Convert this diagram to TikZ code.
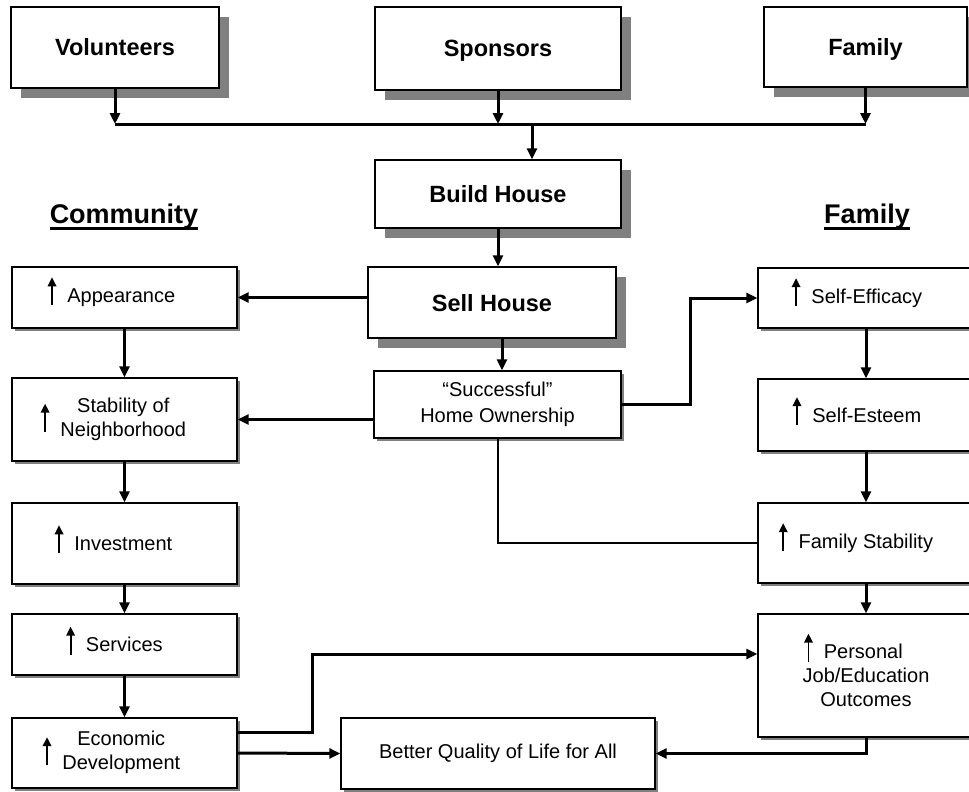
\documentclass[tikz,border=0pt]{standalone}
\usepackage{fontspec}
\setmainfont{Liberation Sans}
\usetikzlibrary{arrows.meta,shadows,calc}
\newcommand{\bigfont}{\fontsize{23.5}{28}\selectfont\bfseries}
\newcommand{\normfont}{\fontsize{20}{24}\selectfont}
\newcommand{\headfont}{\fontsize{27}{32}\selectfont\bfseries}
\newcommand{\upa}{\smash{\tikz[baseline=0pt]\draw[line width=1.9pt,-{Triangle[length=9pt,width=8.5pt]}] (0pt,-3pt) -- (0pt,25pt);}}
\newcommand{\rpad}[1]{\makebox[#1]{}}
\newcommand{\ulh}[1]{\setbox0\hbox{#1}\rlap{\rule[-6.5pt]{\wd0}{2.5pt}}\box0}
\begin{document}
\begin{tikzpicture}[x=1pt,y=-1pt,
  bigbox/.style={draw, line width=1.4pt, fill=white, font=\bigfont, inner sep=0pt,
    text height=17pt, text depth=0pt,
    drop shadow={shadow xshift=10pt, shadow yshift=-10pt, fill=black!50, opacity=1}},
  smallbox/.style={draw, line width=1.4pt, fill=white, font=\normfont, align=center, inner sep=0pt,
    drop shadow={shadow xshift=3pt, shadow yshift=-3pt, fill=black!50, opacity=1}},
  heading/.style={font=\headfont, inner sep=0pt, anchor=base},
  arr/.style={line width=3pt, -{Triangle[length=11pt,width=10pt]}},
  busline/.style={line width=3pt},
  thinline/.style={line width=2pt}
]
\useasboundingbox (0,0) rectangle (969,792);
\clip (0,0) rectangle (969,792);
\fill[white] (0,0) rectangle (969,792);

% top row
\node[bigbox, minimum width=208pt, minimum height=81pt] (vol) at (115,47.5) {Volunteers};
\node[bigbox, minimum width=246pt, minimum height=83pt] (spon) at (498,48.5) {Sponsors};
\node[bigbox, minimum width=203pt, minimum height=80pt] (famtop) at (865.5,47) {Family};
\node[bigbox, minimum width=246pt, minimum height=68pt] (build) at (498,194) {Build House};
\node[bigbox, minimum width=248pt, minimum height=71pt] (sell) at (492,302.5) {Sell House};

% headings
\node[heading] (hcom) at (124,223) {\ulh{Community}};
\node[heading] (hfam) at (867,223) {\ulh{Family}};

% centre
\node[smallbox, minimum width=247pt, minimum height=67pt, font=\fontsize{20}{26}\selectfont] (home) at (497.5,404.5) {“Successful”\\Home Ownership};
\node[smallbox, minimum width=314pt, minimum height=71pt] (better) at (498,753.5) {Better Quality of Life for All};

% community column
\node[smallbox, minimum width=225pt, minimum height=61pt] (app) at (124.5,297.5) {\upa\ \ Appearance\rpad{26pt}};
\node[smallbox, minimum width=225pt, minimum height=83pt] (stab) at (124.5,419.5) {\raisebox{-4pt}{\upa}\ \ \begin{tabular}{@{}c@{}}Stability of\\Neighborhood\end{tabular}\rpad{22pt}};
\node[smallbox, minimum width=225pt, minimum height=81pt] (inv) at (124.5,543.5) {\upa\ \ Investment\rpad{22pt}};
\node[smallbox, minimum width=225pt, minimum height=61pt] (serv) at (124.5,644.5) {\upa\ \ Services\rpad{20pt}};
\node[smallbox, minimum width=225pt, minimum height=70pt] (econ) at (124.5,753) {\raisebox{-4pt}{\upa}\ \ \begin{tabular}{@{}c@{}}Economic\\Development\end{tabular}\rpad{26pt}};

% family column
\node[smallbox, minimum width=216pt, minimum height=60pt] (eff) at (866,298) {\upa\ \ Self-Efficacy\rpad{18pt}};
\node[smallbox, minimum width=216pt, minimum height=72pt] (est) at (866,415) {\upa\ \ Self-Esteem\rpad{18pt}};
\node[smallbox, minimum width=216pt, minimum height=80pt] (fstab) at (866,543) {\upa\ \ Family Stability\rpad{20pt}};
\node[smallbox, minimum width=216pt, minimum height=123pt] (pers) at (866,675.5) {\upa\ \ Personal\rpad{25pt}\\Job/Education\\Outcomes};

% coordinates
\coordinate (busL) at (115,124);
\coordinate (busM) at (532,124);
\coordinate (bendR) at (690,298);
\coordinate (bendE) at (312,654);

% connectors top
\draw[busline] (vol.south |- busL) -- (famtop.south |- busL);
\draw[arr] (vol.south) -- (vol.south |- busL);
\draw[arr] (spon.south) -- (spon.south |- busL);
\draw[arr] (famtop.south) -- (famtop.south |- busL);
\draw[arr] (busM) -- (busM |- build.north);
\draw[arr] (build.south) -- (build.south |- sell.north);
\draw[arr] ([xshift=10pt]sell.south) -- ([xshift=10pt]sell.south |- home.north);

% centre to sides
\draw[arr] (sell.west |- app.east) -- (app.east);
\draw[arr] (home.west |- stab.east) -- (stab.east);
\draw[arr] (home.east) -| (bendR) -- (eff.west);
\draw[thinline] (home.south) |- (fstab.west);

% community chain
\draw[arr] (app.south) -- (stab.north);
\draw[arr] (stab.south) -- (inv.north);
\draw[arr] (inv.south) -- (serv.north);
\draw[arr] (serv.south) -- (econ.north);

% family chain
\draw[arr] (eff.south) -- (est.north);
\draw[arr] (est.south) -- (fstab.north);
\draw[arr] (fstab.south) -- (pers.north);

% bottom
\draw[arr] ([yshift=21pt]econ.east) -| (bendE) -- (bendE -| pers.west);
\draw[arr] (econ.east) -- (better.west);
\draw[arr] (pers.south) |- (better.east);
\end{tikzpicture}
\end{document}
